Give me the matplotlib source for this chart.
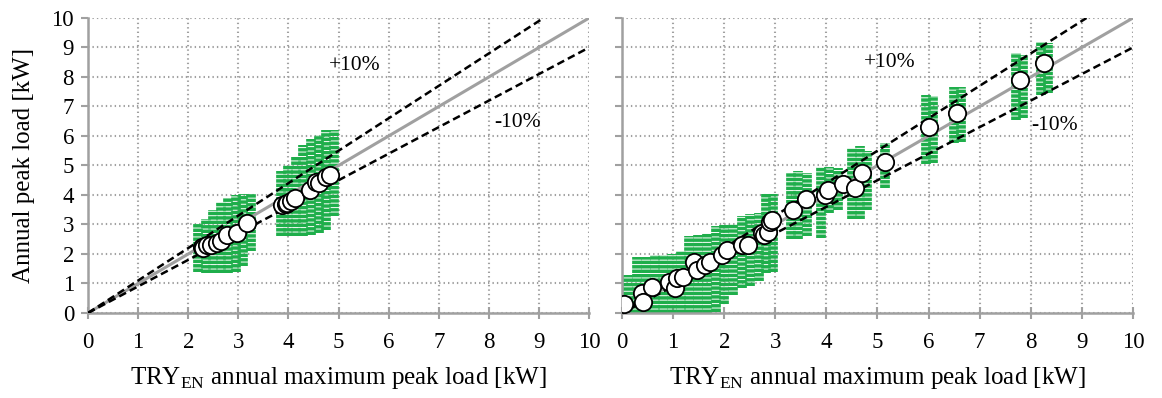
import matplotlib
matplotlib.use("Agg")
import matplotlib.pyplot as plt

plt.rcParams['font.family'] = ['Liberation Serif', 'DejaVu Serif']
plt.rcParams['mathtext.fontset'] = 'custom'
plt.rcParams['mathtext.rm'] = 'Liberation Serif'
plt.rcParams['lines.scale_dashes'] = False

# left panel: simulated peak loads (green columns) and white markers
left_cols_x = [2.2, 2.35, 2.5, 2.65, 2.8, 2.95, 3.1, 3.25,
               3.85, 4.0, 4.15, 4.3, 4.45, 4.6, 4.75, 4.9]
left_cols_lo = [1.4, 1.35, 1.35, 1.35, 1.35, 1.4, 1.6, 2.1,
                2.6, 2.6, 2.6, 2.6, 2.65, 2.7, 2.8, 3.3]
left_cols_hi = [3.0, 3.2, 3.5, 3.75, 3.9, 4.0, 4.05, 4.05,
                4.8, 5.0, 5.3, 5.7, 5.9, 6.05, 6.2, 6.2]
left_pts_x = [2.27, 2.3, 2.37, 2.45, 2.57, 2.65, 2.77, 2.97, 3.17,
              3.87, 3.95, 3.97, 4.05, 4.13, 4.43, 4.56, 4.6, 4.75, 4.83]
left_pts_y = [2.25, 2.2, 2.31, 2.3, 2.36, 2.45, 2.64, 2.70, 3.04,
              3.66, 3.7, 3.74, 3.8, 3.89, 4.17, 4.45, 4.4, 4.6, 4.68]

# right panel
right_cols_x = [-0.05, 0.12, 0.3, 0.47, 0.64, 0.81, 0.98, 1.15, 1.32, 1.49,
                1.66, 1.83, 2.0, 2.17, 2.34, 2.51, 2.68, 2.82, 2.96,
                3.3, 3.45, 3.62, 3.9, 4.05, 4.22, 4.5, 4.65, 4.8, 5.15,
                5.95, 6.08, 6.5, 6.63, 7.72, 7.85, 8.2, 8.33]
right_cols_lo = [0.0, 0.0, 0.0, 0.0, 0.0, 0.0, 0.0, 0.0, 0.0, 0.0,
                 0.0, 0.05, 0.3, 0.6, 0.85, 0.9, 1.1, 1.35, 1.4,
                 2.5, 2.5, 2.6, 2.55, 3.4, 3.5, 3.2, 3.2, 3.5, 4.25,
                 5.05, 5.1, 5.75, 5.8, 6.55, 6.6, 7.4, 7.45]
right_cols_hi = [1.25, 1.3, 1.9, 1.9, 1.95, 1.95, 2.0, 2.1, 2.6, 2.65,
                 2.7, 2.95, 3.0, 3.0, 3.3, 3.35, 3.4, 4.05, 4.05,
                 4.75, 4.8, 4.75, 4.95, 4.95, 4.9, 5.6, 5.65, 5.5, 5.75,
                 7.4, 7.35, 7.65, 7.65, 8.8, 8.75, 9.2, 9.15]
right_pts_x = [0.03, 0.39, 0.42, 0.58, 0.91, 1.04, 1.07, 1.2, 1.4, 1.46,
               1.62, 1.72, 1.95, 2.05, 2.34, 2.47, 2.73, 2.77, 2.86, 2.9,
               2.93, 3.35, 3.61, 3.97, 4.04, 4.33, 4.56, 4.69, 5.15,
               6.0, 6.55, 7.79, 8.26]
right_pts_y = [0.31, 0.67, 0.38, 0.89, 1.06, 0.84, 1.18, 1.23, 1.74, 1.46,
               1.63, 1.74, 1.97, 2.14, 2.31, 2.31, 2.70, 2.64, 2.76, 3.09,
               3.15, 3.49, 3.85, 4.0, 4.17, 4.37, 4.23, 4.74, 5.13,
               6.32, 6.77, 7.9, 8.46]

ticks = list(range(0, 11))
green = '#1fae4b'
grey = '#a0a0a0'

fig = plt.figure(figsize=(11.62, 3.98), dpi=100)
ax1 = fig.add_axes([0.0757, 0.2136, 0.4313, 0.7412])
ax2 = fig.add_axes([0.5353, 0.2136, 0.4397, 0.7412])


def draw_panel(ax, cx, lo, hi, px, py, colw, plus_xy, minus_xy):
    ax.vlines(cx, lo, hi, colors=green, linewidth=colw,
              linestyles=(0, (2.5, 0.7)), zorder=2)
    ax.axline((0, 0), slope=1, color=grey, lw=2.2, zorder=3)
    ax.axline((0, 0), slope=1.1, color='black', lw=1.8,
              linestyle=(0, (5.5, 3)), zorder=3)
    ax.axline((0, 0), slope=0.9, color='black', lw=1.8,
              linestyle=(0, (5.5, 3)), zorder=3)
    ax.scatter(px, py, s=155, facecolor='white', edgecolor='black',
               linewidth=1.3, zorder=4)
    ax.text(plus_xy[0], plus_xy[1], '+10%', fontsize=15.5, ha='center', va='center')
    ax.text(minus_xy[0], minus_xy[1], '-10%', fontsize=15.5, ha='center', va='center')

    ax.set_xlim(0, 10)
    ax.set_ylim(0, 10)
    ax.set_xticks(ticks)
    ax.set_yticks(ticks)
    ax.grid(True, color=grey, linestyle=(0, (1, 2.2)), lw=1.5, zorder=0)
    ax.set_axisbelow(True)
    for s in ['top', 'right']:
        ax.spines[s].set_visible(False)
    for s in ['left', 'bottom']:
        ax.spines[s].set_color(grey)
        ax.spines[s].set_linewidth(1.8)
    ax.tick_params(axis='x', direction='inout', length=9, width=1.5,
                   color=grey, labelsize=16.5, pad=9)
    ax.tick_params(axis='y', direction='out', length=5, width=1.5,
                   color=grey, labelsize=16.5, pad=5)
    ax.set_xlabel(r'TRY$_{\mathregular{EN}}$ annual maximum peak load [kW]',
                  fontsize=18, labelpad=9)


draw_panel(ax1, left_cols_x, left_cols_lo, left_cols_hi, left_pts_x, left_pts_y,
           7, (5.33, 8.4), (8.58, 6.47))
draw_panel(ax2, right_cols_x, right_cols_lo, right_cols_hi, right_pts_x, right_pts_y,
           7, (5.24, 8.5), (8.47, 6.37))
ax1.set_ylabel('Annual peak load [kW]', fontsize=18, labelpad=12)
ax2.tick_params(axis='y', labelleft=False)

fig.savefig('out.png', dpi=100)
